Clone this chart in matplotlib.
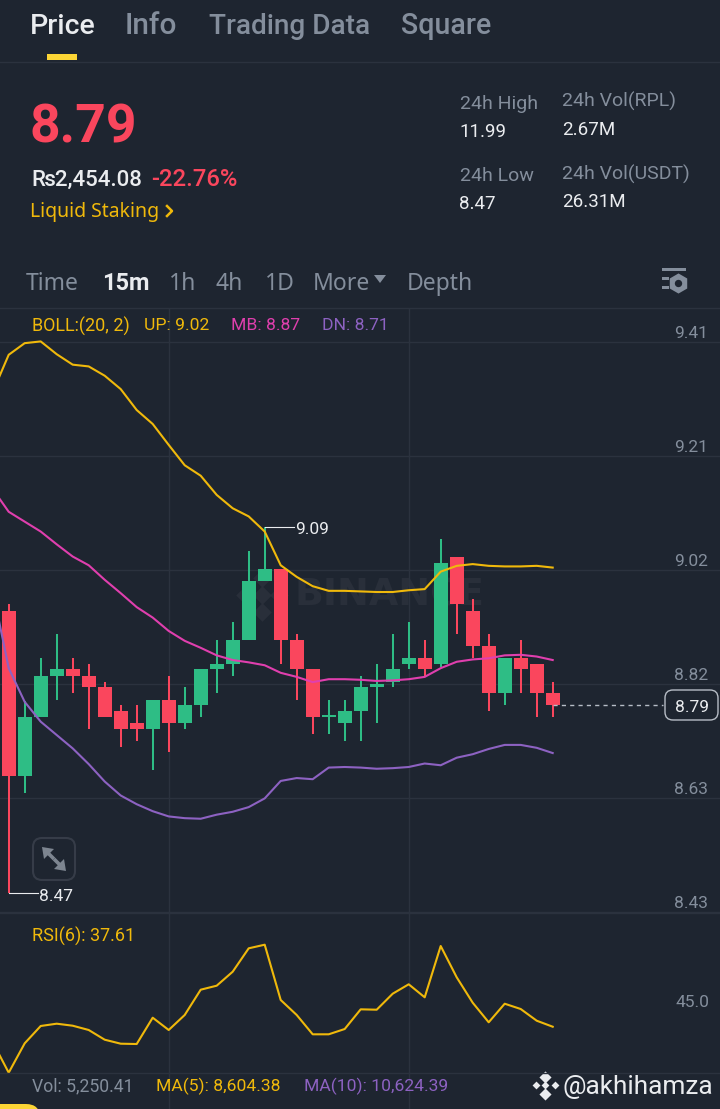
import matplotlib
matplotlib.use("Agg")
import matplotlib.pyplot as plt
from matplotlib.patches import FancyBboxPatch, Polygon, Rectangle

# ---- data ----
opens  = [8.948,8.664,8.765,8.836,8.847,8.836,8.816,8.775,8.755,8.745,8.795,8.755,8.785,8.847,8.857,8.897,8.999,9.020,8.897,8.847,8.765,8.755,8.775,8.817,8.826,8.857,8.866,8.857,9.040,8.948,8.887,8.806,8.866,8.857,8.806]
highs  = [8.959,8.793,8.866,8.907,8.866,8.857,8.826,8.785,8.785,8.795,8.836,8.816,8.847,8.897,8.928,9.050,9.091,9.020,8.908,8.847,8.795,8.795,8.836,8.857,8.908,8.928,8.897,9.071,9.040,8.968,8.908,8.866,8.897,8.857,8.826]
lows   = [8.463,8.634,8.765,8.795,8.806,8.744,8.765,8.714,8.724,8.674,8.704,8.745,8.765,8.806,8.836,8.897,8.999,8.857,8.795,8.735,8.735,8.724,8.724,8.755,8.816,8.847,8.836,8.851,8.908,8.866,8.775,8.785,8.806,8.765,8.765]
closes = [8.664,8.765,8.836,8.847,8.836,8.816,8.765,8.745,8.745,8.795,8.755,8.785,8.847,8.857,8.897,8.999,9.020,8.897,8.847,8.765,8.769,8.775,8.816,8.821,8.847,8.866,8.847,9.030,8.959,8.887,8.806,8.866,8.847,8.806,8.785]
boll_idx = list(range(-1, 35))
boll_up = [9.324,9.388,9.408,9.411,9.389,9.371,9.368,9.352,9.329,9.293,9.269,9.233,9.198,9.180,9.147,9.124,9.110,9.084,9.026,9.006,8.990,8.982,8.982,8.981,8.980,8.980,8.983,8.985,9.015,9.025,9.028,9.025,9.024,9.024,9.025,9.022]
boll_mb = [9.157,9.118,9.101,9.084,9.062,9.041,9.026,9.001,8.978,8.954,8.936,8.913,8.896,8.884,8.871,8.863,8.859,8.854,8.841,8.834,8.825,8.830,8.830,8.829,8.827,8.828,8.830,8.834,8.849,8.860,8.864,8.866,8.871,8.872,8.869,8.863]
boll_dn = [8.983,8.849,8.791,8.757,8.734,8.711,8.684,8.654,8.630,8.615,8.603,8.594,8.591,8.590,8.597,8.602,8.610,8.625,8.655,8.660,8.658,8.678,8.679,8.678,8.676,8.677,8.679,8.685,8.682,8.695,8.701,8.710,8.717,8.717,8.712,8.703]
rsi = [33.2,24.4,32.84,37.82,38.48,37.9,36.67,33.88,32.73,32.64,40.2,36.67,40.98,48.25,49.4,53.42,60.14,61.18,45.29,40.98,35.43,35.43,36.95,42.61,42.5,47.1,49.8,46.06,60.8,51.81,44.51,38.88,44.22,42.7,39.34,37.61]
price_ticks = [9.41,9.214,9.018,8.822,8.626,8.43]
price_tick_labels = ["9.41","9.21","9.02","8.82","8.63","8.43"]
vgrid_idx = [10, 25]
last_price = 8.785

BG="#1e2530"; GRID="#2b323e"; GREEN="#2ebd85"; RED="#fa465d"
GOLD="#f0b90b"; PINK="#e03fae"; PURP="#8d62c2"; GRAY="#848e9c"; WHITE="#eaecef"
plt.rcParams['font.family']=['Roboto','DejaVu Sans']

W,H=720,1109
fig=plt.figure(figsize=(W/100,H/100),dpi=100,facecolor=BG)
def rect(top,bottom): return [0,1-bottom/H,1,(bottom-top)/H]
XL=(-8.7/16,(720-8.7)/16)

# background layer (watermark)
bg=fig.add_axes([0,0,1,1],zorder=0); bg.set_xlim(0,W); bg.set_ylim(H,0); bg.axis('off')
WM="#292f3a"
bg.text(295,595,"BINANCE",color=WM,fontsize=27.4,fontweight='bold',family=['DejaVu Sans'],va='center',ha='left')
for dx,dy in [(0,-17),(-17,0),(17,0),(0,17),(0,0)]:
    bg.scatter(262+dx,595+dy,marker='D',s=90,color=WM,linewidths=0)

# price axes
ax=fig.add_axes(rect(308,913),zorder=1,facecolor='none')
ax.set_xlim(*XL); ax.set_ylim(9.41-(913-342)*0.00172,9.41+(342-308)*0.00172)
for s in ax.spines.values(): s.set_visible(False)
ax.set_xticks(vgrid_idx); ax.set_yticks(price_ticks)
ax.grid(True,color=GRID,lw=1); ax.tick_params(length=0,labelbottom=False,labelleft=False)
ax.set_axisbelow(True)
for i,(o,h,l,c) in enumerate(zip(opens,highs,lows,closes)):
    col=GREEN if c>=o else RED
    ax.vlines(i,l,h,color=col,lw=1.45,zorder=2)
    ax.bar(i,abs(c-o),bottom=min(o,c),width=0.86,color=col,linewidth=0,zorder=2)
ax.plot(boll_idx,boll_up,color=GOLD,lw=1.5,zorder=3)
ax.plot(boll_idx,boll_mb,color=PINK,lw=1.5,zorder=3)
ax.plot(boll_idx,boll_dn,color=PURP,lw=1.5,zorder=3)
for t,lab in zip(price_ticks,price_tick_labels):
    ax.annotate(lab,xy=(1,t),xycoords=('axes fraction','data'),xytext=(-8.5,5.8),textcoords='offset points',
                ha='right',va='center',color=GRAY,fontsize=12.5)
# extreme labels
hi_i=highs.index(max(highs)); lo_i=lows.index(min(lows))
ax.plot([hi_i,hi_i+1.8],[highs[hi_i]]*2,color=WHITE,lw=0.8,zorder=3)
ax.plot([lo_i,lo_i+1.8],[lows[lo_i]]*2,color=WHITE,lw=0.8,zorder=3)
ax.annotate("9.09",xy=(hi_i,highs[hi_i]),xytext=(22,-1.2),textcoords='offset points',color=WHITE,fontsize=12.5,va='center',ha='left')
ax.annotate("8.47",xy=(lo_i,lows[lo_i]),xytext=(21.5,-2.6),textcoords='offset points',color=WHITE,fontsize=12.5,va='center',ha='left')
ax.plot([len(opens)-1,40.9],[last_price,last_price],color="#b7bdc6",lw=1,dashes=(3,3),zorder=3)

# RSI axes
rx=fig.add_axes(rect(913,1073),zorder=1,facecolor='none')
rx.set_xlim(*XL); rx.set_ylim(24.31,70.29)
for s in rx.spines.values(): s.set_visible(False)
rx.set_xticks(vgrid_idx); rx.set_yticks([]); rx.grid(True,axis='x',color=GRID,lw=1)
rx.tick_params(length=0,labelbottom=False,labelleft=False); rx.set_axisbelow(True)
rx.plot(boll_idx,rsi,color=GOLD,lw=1.5,clip_on=True)

# UI overlay
ui=fig.add_axes([0,0,1,1],zorder=3,facecolor='none'); ui.set_xlim(0,W); ui.set_ylim(H,0); ui.axis('off')
ui.plot([168.5,168.5],[1073,1109],color=GRID,lw=1); ui.plot([408.5,408.5],[1073,1109],color=GRID,lw=1)
for y in (62,308,913,1073): ui.plot([0,W],[y,y],color=GRID,lw=1)
def T(x,y,s,c=GRAY,fs=12,fw='normal',fam='Roboto',ha='left'):
    ui.text(x,y,s,color=c,fontsize=fs,fontweight=fw,family=[fam,'DejaVu Sans'],va='center',ha=ha)
N='Noto Sans'
T(30,26,"Price",WHITE,20.5,'medium'); T(125,26,"Info",GRAY,21.5,'medium'); T(209,26,"Trading Data",GRAY,20.2,'medium'); T(401,26,"Square",GRAY,20.6,'medium')
ui.add_patch(Rectangle((47,54),30,6,color="#fcd535",lw=0))
T(30,128,"8.79",RED,38.5,'bold')
T(31,180,"₨2,454.08",WHITE,16,'medium'); T(151,180,"-22.76%",RED,17.2,'medium')
T(30,212,"Liquid Staking",GOLD,14,'normal',N)
ui.plot([167,172,167],[206,211,216],color=GOLD,lw=1.8)
for x,y,s,c in [(460,104,"24h High",GRAY),(459,132,"11.99",WHITE),(460,176,"24h Low",GRAY),(459,204,"8.47",WHITE),
                (562,101,"24h Vol(RPL)",GRAY),(562,130,"2.67M",WHITE),(562,174,"24h Vol(USDT)",GRAY),(562,202,"26.31M",WHITE)]:
    T(x,y,s,c,14 if c==GRAY else 13.5)
for x,s in [(26,"Time"),(169,"1h"),(216,"4h"),(265,"1D"),(313,"More"),(407,"Depth")]:
    T(x,284,s,GRAY,16.5,'normal',N)
T(102,284,"15m",WHITE,17,'bold')
ui.add_patch(Polygon([(374,275),(386,275),(380,283)],color=GRAY,lw=0))
# settings icon
ui.add_patch(Rectangle((662,268),24,3,color=GRAY,lw=0))
ui.add_patch(Rectangle((662,277),7,3,color=GRAY,lw=0)); ui.add_patch(Rectangle((662,286),7,3,color=GRAY,lw=0))
ui.scatter([678],[283],marker='h',s=210,color=GRAY,linewidths=0)
ui.scatter([678],[283],marker='o',s=28,color=BG,linewidths=0)
# BOLL row
FS=12.6
T(32,326,"BOLL:(20, 2)",GOLD,13); T(144,326,"UP: 9.02",GOLD,FS); T(231,326,"MB: 8.87",PINK,FS); T(322,326,"DN: 8.71",PURP,FS)
# price box
ui.add_patch(FancyBboxPatch((665,690),53,30,boxstyle="round,pad=0,rounding_size=8",facecolor=BG,edgecolor="#b7bdc6",lw=1))
T(692,707.5,"8.79",WHITE,12.5,'normal','Roboto','center')
# expand icon
ui.add_patch(FancyBboxPatch((33,838),42,42,boxstyle="round,pad=0,rounding_size=9",facecolor=BG,edgecolor="#363c48",lw=1.5))
ICON="#7d8590"
ui.add_patch(Polygon([(42,847),(54,849),(44,859)],color=ICON,lw=0))
ui.plot([47,54],[852,859],color=ICON,lw=2.6,solid_capstyle='butt')
ui.add_patch(Polygon([(66,871),(54,869),(64,859)],color=ICON,lw=0))
ui.plot([61,54],[866,859],color=ICON,lw=2.6,solid_capstyle='butt')
# RSI / vol rows
T(32,936,"RSI(6): 37.61",GOLD,13)
T(692,1002.5,"45.0",GRAY,12.5,'normal','Roboto','center')
T(32,1086,"Vol: 5,250.41",GRAY,12.7); T(156,1086,"MA(5): 8,604.38",GOLD,12.6); T(304,1086,"MA(10): 10,624.39",PURP,12.6)
T(563,1087,"@akhihamza",WHITE,18.9,'normal')
for dx,dy,s in [(0,-8.5,38),(-9.5,0,16),(9.5,0,16),(0,8.5,38),(0,0,16)]:
    ui.scatter(545+dx,1085+dy,marker='D',s=s,color=WHITE,linewidths=0)
ui.add_patch(FancyBboxPatch((-30,1104),70,30,boxstyle="round,pad=0,rounding_size=14",color="#fcd535",lw=0,clip_on=True))
fig.savefig("out.png",dpi=100,facecolor=BG)
